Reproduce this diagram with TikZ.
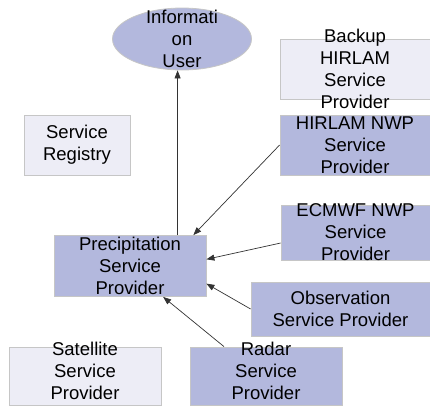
\documentclass[tikz,border=0pt]{standalone}
\usepackage{fontspec}
\setmainfont{Liberation Sans}
\usetikzlibrary{arrows.meta,shapes.geometric}

\definecolor{provblue}{HTML}{B3B8DD}
\definecolor{provpale}{HTML}{EDEDF6}
\definecolor{provline}{HTML}{C6C6C6}

\tikzset{
  prov/.style={draw=provline, fill=provblue, line width=0.8pt, inner sep=0pt},
  pale/.style={prov, fill=provpale},
  txt/.style={align=center, font=\fontsize{18.5}{22}\selectfont, inner sep=0pt},
  feed/.style={draw=black!80, line width=0.7pt, -{Triangle[length=8pt,width=6pt]}}
}

\begin{document}
\begin{tikzpicture}[x=1pt,y=-1pt]
\useasboundingbox (0,0) rectangle (430,405);

% boxes
\node[prov, ellipse, minimum width=139pt, minimum height=62pt] (user) at (182,39) {};
\node[pale, minimum width=106pt, minimum height=60pt] (registry) at (77,145) {};
\node[pale, minimum width=150pt, minimum height=60pt] (backup) at (355,69) {};
\node[prov, minimum width=150pt, minimum height=60pt] (hirlam) at (355,145) {};
\node[prov, minimum width=149pt, minimum height=55pt] (ecmwf) at (355.5,232.5) {};
\node[prov, minimum width=179pt, minimum height=54pt] (obs) at (340.5,309) {};
\node[prov, minimum width=152pt, minimum height=58pt] (radar) at (266,376) {};
\node[pale, minimum width=152pt, minimum height=58pt] (sat) at (85,376) {};
\node[prov, minimum width=152pt, minimum height=61pt] (precip) at (130,266) {};

% texts
\node[txt] at (user) {Informati\\on\\User};
\node[txt] at (registry) {Service\\Registry};
\node[txt] at (backup) {Backup\\HIRLAM\\Service\\Provider};
\node[txt] at (hirlam) {HIRLAM NWP\\Service\\Provider};
\node[txt] at (ecmwf) {ECMWF NWP\\Service\\Provider};
\node[txt] at (obs) {Observation\\Service Provider};
\node[txt] at ([yshift=5pt]radar.center) {Radar\\Service\\Provider};
\node[txt] at ([yshift=5pt]sat.center) {Satellite\\Service\\Provider};
\node[txt] at (precip) {Precipitation\\Service\\Provider};

% arrows
\draw[feed] (precip.33) -- (precip.33 |- user.south);
\draw[feed] (hirlam.west) -- (precip.26);
\draw[feed] (ecmwf.188) -- (precip.5);
\draw[feed] (obs.west) -- (precip.-13);
\draw[feed] (radar.145) -- (precip.-43);
\end{tikzpicture}
\end{document}
